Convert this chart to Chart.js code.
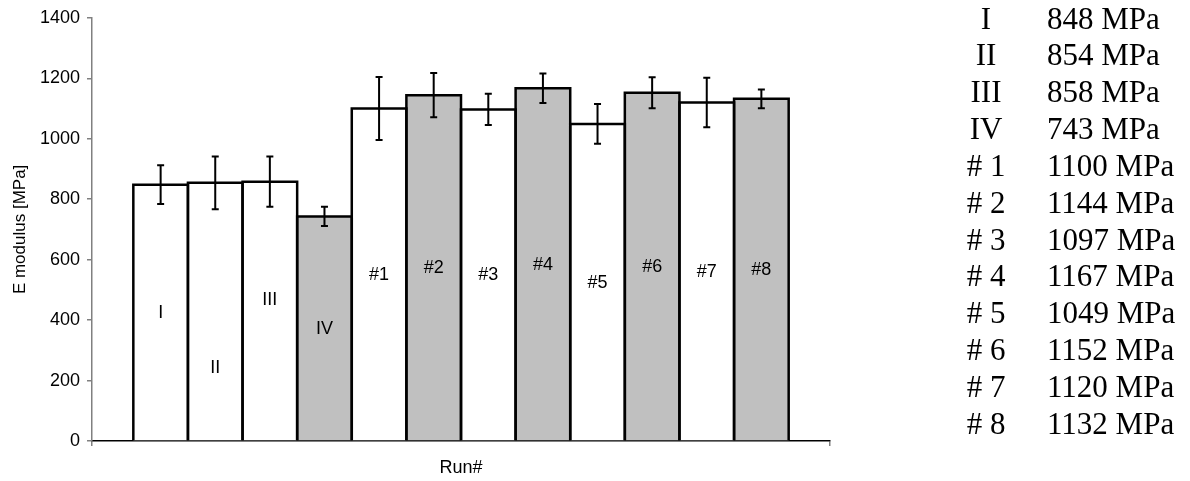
<!DOCTYPE html>
<html>
<head>
<meta charset="utf-8">
<script src="https://cdn.jsdelivr.net/npm/chart.js@4.4.1/dist/chart.umd.min.js"></script>
<style>
  html, body { margin: 0; padding: 0; background: #fff; }
  #wrap { width: 1190px; height: 481px; }
</style>
</head>
<body>
<div id="wrap"><canvas id="modulusChart" width="1190" height="481"></canvas></div>
<script>
// Runs and their mean E modulus (MPa) with standard deviation
const runNames = ['I', 'II', 'III', 'IV', '#1', '#2', '#3', '#4', '#5', '#6', '#7', '#8'];
const moduli = [848, 854, 858, 743, 1100, 1144, 1097, 1167, 1049, 1152, 1120, 1132];
const deviations = [64, 87, 83, 32, 104, 73, 52, 49, 66, 51, 82, 31];
// runs drawn in grey
const shadedRuns = [false, false, false, true, false, true, false, true, false, true, false, true];
// value level where each run's name sits inside its bar
const labelHeights = [424, 240, 466, 372, 550, 572, 548, 583, 524, 576, 560, 566];
const yTicks = [0, 200, 400, 600, 800, 1000, 1200, 1400];

const SANS = '"Liberation Sans", Arial, sans-serif';
const SERIF = '"Liberation Serif", "Times New Roman", serif';

const barDecorations = {
    id: 'barDecorations',
    afterDatasetsDraw(chart) {
        const { ctx } = chart;
        const y = chart.scales.y;
        ctx.save();

        // outlines centred on the bar edges, so neighbouring bars share one line
        ctx.strokeStyle = '#000';
        ctx.lineWidth = 2.5;
        ctx.lineJoin = 'miter';
        moduli.forEach((m, i) => {
            const bar = chart.getDatasetMeta(i).data[0];
            const left = bar.x - bar.width / 2;
            const right = bar.x + bar.width / 2;
            ctx.beginPath();
            ctx.moveTo(left, bar.base);
            ctx.lineTo(left, bar.y);
            ctx.lineTo(right, bar.y);
            ctx.lineTo(right, bar.base);
            ctx.stroke();
        });

        // error bars
        ctx.lineWidth = 2;
        moduli.forEach((m, i) => {
            const bar = chart.getDatasetMeta(i).data[0];
            const top = y.getPixelForValue(m + deviations[i]);
            const bottom = y.getPixelForValue(m - deviations[i]);
            ctx.beginPath();
            ctx.moveTo(bar.x, top);
            ctx.lineTo(bar.x, bottom);
            ctx.moveTo(bar.x - 3.5, top);
            ctx.lineTo(bar.x + 3.5, top);
            ctx.moveTo(bar.x - 3.5, bottom);
            ctx.lineTo(bar.x + 3.5, bottom);
            ctx.stroke();
        });

        // run names inside the bars
        ctx.fillStyle = '#000';
        ctx.font = '18px ' + SANS;
        ctx.textAlign = 'center';
        ctx.textBaseline = 'middle';
        labelHeights.forEach((h, i) => {
            const bar = chart.getDatasetMeta(i).data[0];
            ctx.fillText(runNames[i], bar.x, y.getPixelForValue(h));
        });
        ctx.restore();
    }
};

// list of mean values at the right
const valueList = {
    id: 'valueList',
    afterDraw(chart) {
        const { ctx } = chart;
        ctx.save();
        ctx.fillStyle = '#000';
        ctx.font = '31px ' + SERIF;
        ctx.textBaseline = 'alphabetic';
        runNames.forEach((name, i) => {
            const base = 28.5 + i * 36.85;
            ctx.textAlign = 'center';
            ctx.fillText(name.replace('#', '# '), 986, base);
            ctx.textAlign = 'left';
            ctx.fillText(moduli[i] + ' MPa', 1047, base);
        });
        ctx.restore();
    }
};

const datasets = runNames.map((name, i) => ({
    label: name,
    data: [moduli[i]],
    backgroundColor: shadedRuns[i] ? '#c0c0c0' : '#ffffff',
    borderWidth: 0,
    inflateAmount: 0,
    barPercentage: 1,
    categoryPercentage: 0.888
}));

new Chart(document.getElementById('modulusChart'), {
    type: 'bar',
    data: { labels: ['Run#'], datasets },
    options: {
        responsive: false,
        animation: false,
        devicePixelRatio: 1,
        layout: { padding: { left: 0, top: 15, right: 360, bottom: 0 } },
        plugins: {
            legend: { display: false },
            tooltip: { enabled: false }
        },
        scales: {
            x: {
                afterFit: s => { s.height = 40; },
                grid: { display: true, drawOnChartArea: false, drawTicks: true, tickLength: 5, color: '#808080', lineWidth: 1.5 },
                border: { display: true, color: '#000', width: 1.5 },
                ticks: { display: false },
                title: { display: true, text: 'Run#', color: '#000', font: { family: SANS, size: 18 }, padding: { top: 0, bottom: 2 } }
            },
            y: {
                min: 0,
                max: 1400,
                afterFit: s => { s.width = 92; },
                afterBuildTicks: s => { s.ticks = yTicks.map(v => ({ value: v })); },
                grid: { display: true, drawOnChartArea: false, drawTicks: true, tickLength: 5, color: '#808080', lineWidth: 1.5 },
                border: { display: true, color: '#808080', width: 1.5 },
                ticks: { color: '#000', font: { family: SANS, size: 18 }, padding: 7, callback: v => String(v) },
                title: { display: true, text: 'E modulus [MPa]', color: '#000', font: { family: SANS, size: 17 }, padding: { top: 10, bottom: 0 } }
            }
        }
    },
    plugins: [barDecorations, valueList]
});
</script>
</body>
</html>
